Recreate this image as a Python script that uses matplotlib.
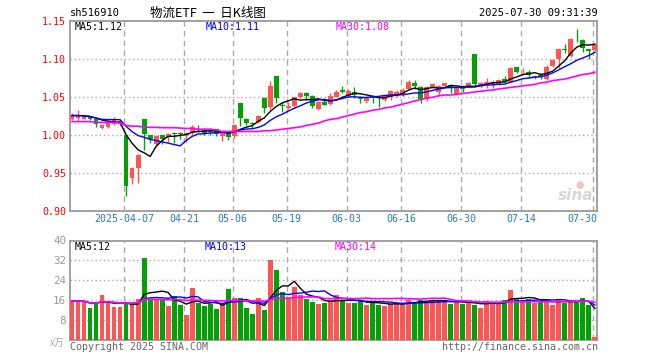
import matplotlib
matplotlib.use("Agg")
import matplotlib.pyplot as plt
import numpy as np
import pandas as pd

# ---------------- data ----------------
opens = [1.021, 1.023, 1.022, 1.024, 1.0215, 1.009, 1.0105, 1.015, 1.0145,
         1.001, 0.944, 0.957, 1.0215, 1.000, 0.988, 1.000, 0.998, 1.003, 1.003, 1.000,
         1.0026, 1.0085, 1.007, 1.006, 1.008, 0.9986, 1.0017, 0.999, 1.0425, 1.0214,
         1.0163, 1.017, 1.0487, 1.0377, 1.078, 1.040, 1.0363, 1.0385, 1.050, 1.0557,
         1.0512, 1.035, 1.0438, 1.0407, 1.050, 1.0596, 1.052, 1.0574, 1.0486, 1.0456,
         1.0517, 1.0508, 1.047, 1.052, 1.052, 1.055, 1.0605, 1.069, 1.064, 1.048,
         1.064, 1.057, 1.065, 1.0657, 1.0543, 1.0648, 1.0644, 1.1069, 1.064, 1.0666,
         1.067, 1.067, 1.0736, 1.0705, 1.090, 1.0842, 1.0837, 1.0767, 1.079, 1.074,
         1.091, 1.100, 1.1132, 1.1048, 1.130, 1.1254, 1.113, 1.1122]
highs = [1.030, 1.033, 1.027, 1.026, 1.023, 1.014, 1.020, 1.024, 1.022,
         1.001, 0.958, 0.975, 1.0215, 1.001, 1.000, 1.000, 1.003, 1.004, 1.004, 1.0045,
         1.013, 1.0136, 1.010, 1.010, 1.0085, 1.004, 1.002, 1.0145, 1.043, 1.023,
         1.017, 1.0267, 1.0504, 1.0715, 1.078, 1.0434, 1.0434, 1.051, 1.0574, 1.0574,
         1.053, 1.045, 1.0487, 1.0551, 1.0596, 1.065, 1.0605, 1.064, 1.0517, 1.0508,
         1.053, 1.0517, 1.0535, 1.0596, 1.0596, 1.0618, 1.0723, 1.0723, 1.0644, 1.0653,
         1.0684, 1.0666, 1.0693, 1.0675, 1.064, 1.066, 1.0706, 1.1069, 1.0701, 1.075,
         1.0723, 1.0736, 1.078, 1.090, 1.0903, 1.088, 1.0859, 1.079, 1.0815, 1.0925,
         1.1008, 1.1144, 1.120, 1.1276, 1.1394, 1.1262, 1.1136, 1.1201]
lows = [1.020, 1.019, 1.021, 1.020, 1.0105, 1.008, 1.0095, 1.014, 1.012,
        0.9206, 0.936, 0.937, 0.981, 0.9895, 0.987, 0.988, 0.991, 0.9895, 0.995, 0.991,
        1.000, 1.0048, 1.000, 1.000, 0.999, 0.9925, 0.9938, 0.9968, 1.0122, 1.0135,
        1.009, 1.016, 1.029, 1.0346, 1.043, 1.031, 1.0346, 1.0355, 1.049, 1.0465,
        1.0364, 1.0333, 1.040, 1.0395, 1.050, 1.0561, 1.051, 1.0487, 1.043, 1.043,
        1.043, 1.0377, 1.0447, 1.047, 1.050, 1.0517, 1.0596, 1.0605, 1.043, 1.0456,
        1.0618, 1.0517, 1.064, 1.0561, 1.0531, 1.057, 1.064, 1.064, 1.0618, 1.0618,
        1.0622, 1.066, 1.0684, 1.070, 1.0815, 1.081, 1.075, 1.0736, 1.0736, 1.0728,
        1.090, 1.088, 1.108, 1.1035, 1.123, 1.109, 1.0999, 1.1113]
closes = [1.026, 1.026, 1.025, 1.022, 1.0145, 1.013, 1.018, 1.021, 1.019,
          0.933, 0.957, 0.974, 1.002, 0.995, 0.999, 0.995, 1.002, 1.002, 1.002, 1.003,
          1.0114, 1.0072, 1.0035, 1.005, 1.0017, 1.004, 0.9978, 1.0136, 1.0223, 1.0158,
          1.0150, 1.0254, 1.0364, 1.0649, 1.0487, 1.038, 1.039, 1.050, 1.0557, 1.0517,
          1.0385, 1.044, 1.040, 1.0517, 1.0574, 1.057, 1.0583, 1.0526, 1.0478, 1.050,
          1.0486, 1.0486, 1.0517, 1.0583, 1.0574, 1.060, 1.070, 1.065, 1.048, 1.064,
          1.068, 1.065, 1.0684, 1.062, 1.0618, 1.0614, 1.0692, 1.0675, 1.0683, 1.070,
          1.070, 1.0727, 1.0705, 1.088, 1.083, 1.0848, 1.079, 1.0772, 1.0763, 1.0903,
          1.0996, 1.1131, 1.1122, 1.1267, 1.129, 1.1144, 1.1113, 1.1184]
ma30_price = [1.018, 1.018, 1.018, 1.018, 1.017, 1.017, 1.017, 1.017, 1.016,
              1.013, 1.012, 1.012, 1.011, 1.0105, 1.0105, 1.010, 1.010, 1.010, 1.0095, 1.009,
              1.009, 1.008, 1.008, 1.008, 1.007, 1.005, 1.005, 1.005, 1.005, 1.005,
              1.005, 1.005, 1.006, 1.006, 1.007, 1.008, 1.009, 1.010, 1.011, 1.013,
              1.0145, 1.016, 1.019, 1.021, 1.022, 1.024, 1.026, 1.028, 1.030, 1.031,
              1.033, 1.034, 1.036, 1.037, 1.039, 1.041, 1.043, 1.045, 1.047, 1.049,
              1.050, 1.052, 1.053, 1.053, 1.054, 1.055, 1.056, 1.057, 1.058, 1.059,
              1.0595, 1.061, 1.062, 1.063, 1.064, 1.065, 1.066, 1.067, 1.069, 1.070,
              1.072, 1.073, 1.074, 1.076, 1.078, 1.080, 1.081, 1.083]
volumes = [15.7, 15.7, 15.4, 12.9, 14.5, 17.9, 15.4, 13.3, 13.3, 14.6,
           14.6, 16.5, 32.8, 16.5, 16.0, 16.5, 13.7, 17.7, 14.1, 10.1,
           21.1, 14.9, 13.7, 14.6, 12.5, 14.1, 20.5, 16.9, 16.9, 12.9,
           10.5, 16.9, 12.1, 32.2, 28.2, 19.3, 16.9, 21.5, 17.9, 16.6,
           15.4, 14.6, 15.0, 16.1, 17.9, 15.8, 15.0, 15.0, 16.1, 14.2,
           15.3, 14.2, 13.8, 14.6, 15.0, 14.2, 16.2, 15.2, 16.2, 15.8,
           15.8, 15.8, 15.4, 14.6, 15.8, 14.6, 15.4, 14.2, 13.0, 15.8,
           15.4, 15.0, 16.2, 19.9, 17.0, 15.8, 16.6, 15.0, 15.8, 15.4,
           14.2, 16.6, 15.0, 15.8, 15.4, 17.0, 14.2, 1.1]
tick_idx = [9, 19, 27, 36, 46, 55, 65, 75, 87]
tick_labels = ["2025-04-07", "04-21", "05-06", "05-19", "06-03", "06-16", "06-30", "07-14", "07-30"]
price_ticks = [0.90, 0.95, 1.00, 1.05, 1.10, 1.15]
vol_ticks = [8, 16, 24, 32, 40]
code = "sh516910"
title = "物流ETF  一  日K线图"
stamp = "2025-07-30 09:31:39"
ma_price_txt = ["MA5:1.12", "MA10:1.11", "MA30:1.08"]
ma_vol_txt = ["MA5:12", "MA10:13", "MA30:14"]

# ---------------- style ----------------
RED = "#ff5454"
GREEN = "#05a005"
GRID = "#aaaaaa"
FRAME = "#9a9a9a"
MONO = "DejaVu Sans Mono"
FS = 7.2

W, H = 660, 360
fig = plt.figure(figsize=(6.6, 3.6), dpi=100)
fig.patch.set_facecolor("white")

def fx(x):
    return x / W

def fy(y):
    return 1 - y / H

ax = fig.add_axes([fx(70.3), fy(211.3), 527 / W, 190 / H])
axv = fig.add_axes([fx(70.3), fy(340), 527 / W, 99.5 / H])

o = np.array(opens); h = np.array(highs); l = np.array(lows); c = np.array(closes)
v = np.array(volumes)
x = np.arange(len(c))
up = c >= o
cols = np.where(up, RED, GREEN)

ma5 = pd.Series(c).rolling(5, min_periods=1).mean()
ma10 = pd.Series(c).rolling(10, min_periods=1).mean()

# candles
ax.vlines(x, l, h, colors=cols, lw=1.0, zorder=2)
body_h = np.maximum(np.abs(c - o), 0.0007)
ax.bar(x, body_h, bottom=np.minimum(o, c), width=0.8, color=cols, zorder=3, linewidth=0)
ax.plot(x, ma5, color="black", lw=1.0, zorder=4)
ax.plot(x, ma10, color="#0000ff", lw=1.0, zorder=4)
ax.plot(x, ma30_price, color="#ff00ff", lw=1.2, zorder=4)

ax.set_xlim(-0.28, 87.4)
ax.set_ylim(0.90, 1.15)

# volume
axv.bar(x, v, width=0.8, color=cols, linewidth=0, zorder=3)
vma5 = pd.Series(v).rolling(5, min_periods=1).mean()
vma10 = pd.Series(v).rolling(10, min_periods=1).mean()
vma30 = pd.Series(v).rolling(30, min_periods=1).mean()
axv.plot(x, vma5, color="black", lw=1.0, zorder=4)
axv.plot(x, vma10, color="#0000ff", lw=1.0, zorder=4)
axv.plot(x, vma30, color="#ff00ff", lw=1.2, zorder=4)
axv.set_xlim(-0.28, 87.4)
axv.set_ylim(0, 40)

grid_x = [t - 0.28 for t in tick_idx]
for a, hticks in ((ax, price_ticks[1:-1]), (axv, vol_ticks[:-1])):
    for gx in grid_x:
        a.axvline(gx, color=GRID, lw=1.0, ls=(0, (4, 3)), zorder=1)
    for gy in hticks:
        a.axhline(gy, color=GRID, lw=1.0, ls=(0, (1, 2)), zorder=1)
    for s in a.spines.values():
        s.set_color(FRAME)
        s.set_linewidth(1.3)
    a.set_xticks([])

ax.set_yticks(price_ticks)
ax.set_yticklabels(["%.2f" % t for t in price_ticks], family=MONO, fontsize=FS, color="#ff0000")
ax.tick_params(axis="y", length=0, pad=3)
axv.set_yticks(vol_ticks)
axv.set_yticklabels([str(t) for t in vol_ticks], family=MONO, fontsize=FS + 0.6, color="#999999")
axv.tick_params(axis="y", length=0, pad=3)

# date labels
for i, (gx, lab) in enumerate(zip(grid_x, tick_labels)):
    if i == len(tick_labels) - 1:
        ax.text(87.4, 0.8965, lab, ha="right", va="top", family=MONO, fontsize=FS, color="#2a7ab9")
    else:
        ax.text(gx, 0.8965, lab, ha="center", va="top", family=MONO, fontsize=FS, color="#2a7ab9")

# header texts
fig.text(fx(70), fy(13), code, ha="left", va="center", family=MONO, fontsize=FS + 0.3, color="black")
fig.text(fx(150), fy(13), title, ha="left", va="center",
         family=["Noto Sans CJK SC", "DejaVu Sans"], fontsize=9, color="black")
fig.text(fx(598), fy(13), stamp, ha="right", va="center", family=MONO, fontsize=FS + 0.3, color="black")

ma_cols = ["black", "#0000ff", "#ff00ff"]
for txt, xx, cc in zip(ma_price_txt, [75, 206, 336], ma_cols):
    fig.text(fx(xx), fy(27.5), txt, ha="left", va="center", family=MONO, fontsize=FS, color=cc)
for txt, xx, cc in zip(ma_vol_txt, [75, 205, 335], ma_cols):
    fig.text(fx(xx), fy(247), txt, ha="left", va="center", family=MONO, fontsize=FS, color=cc)

# footer
fig.text(fx(70), fy(347), "Copyright 2025 SINA.COM", ha="left", va="center",
         family=MONO, fontsize=FS, color="#666666")
fig.text(fx(598), fy(347), "http://finance.sina.com.cn", ha="right", va="center",
         family=MONO, fontsize=FS, color="#666666")
fig.text(fx(64), fy(343), "x万", ha="right", va="center",
         family=["Noto Sans CJK SC", "DejaVu Sans"], fontsize=7, color="#aaaaaa", style="italic")

# watermark
fig.text(fx(576), fy(196), "sina", ha="center", va="center", family="DejaVu Sans",
         fontsize=11, fontweight="bold", style="italic", color="#d6d6d6")
fig.text(fx(580), fy(185), "●", ha="center", va="center", family="DejaVu Sans",
         fontsize=7, color="#f2c4c4")

fig.savefig("out.png", dpi=100)
